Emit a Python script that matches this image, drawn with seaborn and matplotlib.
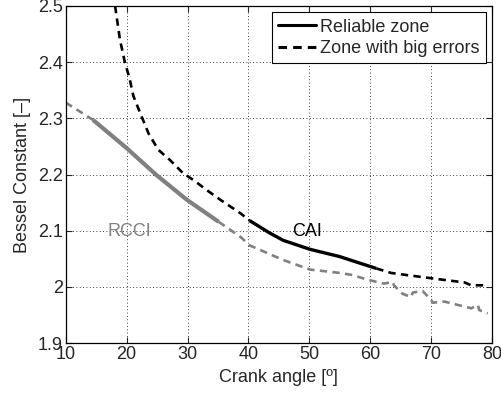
import matplotlib
matplotlib.use("Agg")
import matplotlib.pyplot as plt
from matplotlib.lines import Line2D
import seaborn as sns
import pandas as pd

# CAI curve (black)
cai_angle = [18.1, 18.9, 19.7, 20.5, 21.1, 22.2, 23.6, 25.2, 27.1, 29.3, 31.0, 33.2, 35.4, 38.7,
             40.2, 43.5, 45.7, 50.1, 55.0, 58.4, 61.0,
             63.4, 66.1, 68.3, 71.1, 73.3, 75.5, 76.6, 78.2, 79.0]
cai_bessel = [2.50, 2.44, 2.40, 2.37, 2.34, 2.31, 2.273, 2.244, 2.226, 2.202, 2.190, 2.172, 2.155, 2.131,
              2.118, 2.096, 2.083, 2.067, 2.054, 2.042, 2.033,
              2.025, 2.021, 2.018, 2.014, 2.011, 2.008, 2.003, 2.003, 2.003]
cai_reliable = (40.2, 61.0)

# RCCI curve (gray)
rcci_angle = [10.0, 14.5, 20.0, 24.9, 29.9, 35.1, 38.7, 40.2, 45.7, 50.1, 55.0, 57.2, 59.5, 62.3,
              63.7, 63.9, 65.3, 66.7, 67.0, 68.6, 70.0, 70.3, 72.2, 74.4, 76.6, 77.7, 77.9, 79.3]
rcci_bessel = [2.328, 2.297, 2.247, 2.199, 2.155, 2.116, 2.089, 2.074, 2.048, 2.031, 2.025, 2.021, 2.013, 2.006,
               2.009, 2.003, 1.988, 1.982, 1.990, 1.993, 1.977, 1.972, 1.974, 1.968, 1.962, 1.968, 1.959, 1.953]
rcci_reliable = (14.5, 35.1)

x_ticks = [10, 20, 30, 40, 50, 60, 70, 80]
y_ticks = [1.9, 2.0, 2.1, 2.2, 2.3, 2.4, 2.5]
y_ticklabels = ["1.9", "2", "2.1", "2.2", "2.3", "2.4", "2.5"]

sns.set_style("ticks")
plt.rcParams["font.family"] = ["Liberation Sans", "DejaVu Sans"]
FS = 13

fig = plt.figure(figsize=(5.02, 3.94), dpi=100)
ax = fig.add_axes([0.131, 0.129, 0.849, 0.856])

DASH = (0, (2.8, 2.0))


def segments(xs, ys, rel):
    lo, hi = rel
    pre = [(x, y) for x, y in zip(xs, ys) if x <= lo]
    mid = [(x, y) for x, y in zip(xs, ys) if lo <= x <= hi]
    post = [(x, y) for x, y in zip(xs, ys) if x >= hi]
    return [(pre, "dashed"), (mid, "solid"), (post, "dashed")]


for xs, ys, rel, col, lw_solid in [(cai_angle, cai_bessel, cai_reliable, "black", 2.4),
                                   (rcci_angle, rcci_bessel, rcci_reliable, "#808080", 3.0)]:
    for pts, style in segments(xs, ys, rel):
        if len(pts) < 2:
            continue
        df = pd.DataFrame(pts, columns=["angle", "bessel"])
        if style == "solid":
            sns.lineplot(data=df, x="angle", y="bessel", ax=ax, color=col, lw=lw_solid,
                         sort=False, estimator=None, solid_capstyle="butt")
        else:
            sns.lineplot(data=df, x="angle", y="bessel", ax=ax, color=col, lw=1.9,
                         sort=False, estimator=None, dashes=False, linestyle=DASH)

ax.text(49.6, 2.098, "CAI", fontsize=FS, color="black", ha="center", va="center")
ax.text(20.5, 2.098, "RCCI", fontsize=FS, color="#808080", ha="center", va="center")

ax.set_xlim(10, 80)
ax.set_ylim(1.9, 2.5)
ax.set_xticks(x_ticks)
ax.set_yticks(y_ticks)
ax.set_yticklabels(y_ticklabels)
ax.tick_params(direction="in", top=True, right=True, labelsize=FS, length=4, width=0.8, pad=2)
ax.grid(True, linestyle=(0, (1, 3)), color="black", linewidth=0.6)
for s in ax.spines.values():
    s.set_color("black")
    s.set_linewidth(0.9)
ax.set_xlabel("Crank angle [º]", fontsize=FS, labelpad=4)
ax.set_ylabel("Bessel Constant [–]", fontsize=FS, labelpad=5)

handles = [Line2D([], [], color="black", lw=2.2),
           Line2D([], [], color="black", lw=2.2, linestyle=DASH)]
leg = ax.legend(handles, ["Reliable zone", "Zone with big errors"], loc="upper right",
                fontsize=FS, frameon=True, fancybox=False, edgecolor="black",
                framealpha=1, handlelength=2.1, handletextpad=0.2, borderpad=0.35,
                labelspacing=0.25, borderaxespad=0.35)
leg.get_frame().set_linewidth(0.8)

fig.savefig("out.png", dpi=100)
